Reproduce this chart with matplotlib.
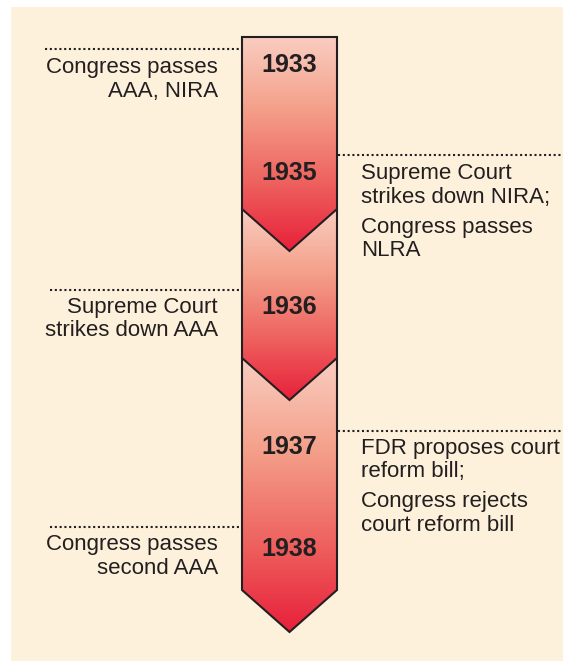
import numpy as np
import matplotlib.pyplot as plt
from matplotlib.patches import Polygon, Rectangle
from matplotlib.colors import LinearSegmentedColormap

# timeline content
years = [1933, 1935, 1936, 1937, 1938]
events = [
    [["Congress passes", "AAA, NIRA"]],
    [["Supreme Court", "strikes down NIRA;"], ["Congress passes", "NLRA"]],
    [["Supreme Court", "strikes down AAA"]],
    [["FDR proposes court", "reform bill;"], ["Congress rejects", "court reform bill"]],
    [["Congress passes", "second AAA"]],
]
sides = ["left", "right", "left", "right", "left"]

# layout (pixel coordinates, y grows downward)
W, H = 563, 661
col_l, col_r = 242, 337
col_c = (col_l + col_r) / 2
# arrow segments: (top, side end, point)
segments = [(37, 209, 251), (209, 358, 400), (358, 590, 632)]
year_base = [72, 180, 314, 454, 556]
rule_y = [49, 155, 290, 431, 527]
rule_start = [45, None, 50, None, 50]
text_base = [73, 179, 313, 454, 550]
line_step = 23.5
para_gap = 30

cream = "#fdf1dc"
ink = "#231f20"
grad = LinearSegmentedColormap.from_list(
    "arrow", ["#f9cdc0", "#f4a08a", "#ee6460", "#e8203a"])

fig = plt.figure(figsize=(W / 100, H / 100), dpi=100)
ax = fig.add_axes([0, 0, 1, 1])
ax.set_xlim(0, W)
ax.set_ylim(H, 0)
ax.axis("off")
fig.patch.set_facecolor("white")

ax.add_patch(Rectangle((11, 7), W, H, facecolor=cream, edgecolor="none", zorder=0))

# arrow segments, last one first so earlier chevrons sit on top
for i in range(len(segments) - 1, -1, -1):
    top, side_end, point = segments[i]
    z = 10 - i
    poly = Polygon([(col_l, top), (col_r, top), (col_r, side_end),
                    (col_c, point), (col_l, side_end)], closed=True,
                   facecolor="none", edgecolor=ink, lw=1.5, zorder=z + 0.5,
                   joinstyle="miter")
    ax.add_patch(poly)
    g = np.linspace(0, 1, 256).reshape(-1, 1)
    im = ax.imshow(g, cmap=grad, aspect="auto", origin="upper",
                   extent=(col_l, col_r, point, top), zorder=z,
                   interpolation="bilinear")
    im.set_clip_path(poly)

ax.set_xlim(0, W)
ax.set_ylim(H, 0)

for yr, yb in zip(years, year_base):
    ax.text(col_c, yb, str(yr), ha="center", va="baseline", fontsize=18,
            fontweight="bold", family="Liberation Sans", color=ink, zorder=20)

for ev, side, ry, rs, tb in zip(events, sides, rule_y, rule_start, text_base):
    if side == "left":
        ax.plot([rs, col_l], [ry, ry], color=ink, lw=1.5,
                linestyle=(0, (1, 1.3)), dash_capstyle="butt", zorder=5)
        tx, ha = 218, "right"
    else:
        ax.plot([col_r + 1, W], [ry, ry], color=ink, lw=1.5,
                linestyle=(0, (1, 1.3)), dash_capstyle="butt", zorder=5)
        tx, ha = 361, "left"
    y = tb
    for k, para in enumerate(ev):
        if k > 0:
            y += para_gap - line_step
        for line in para:
            ax.text(tx, y, line, ha=ha, va="baseline", fontsize=16,
                    family="Liberation Sans", color=ink, zorder=20)
            y += line_step

fig.savefig("out.png", dpi=100, facecolor="white")
